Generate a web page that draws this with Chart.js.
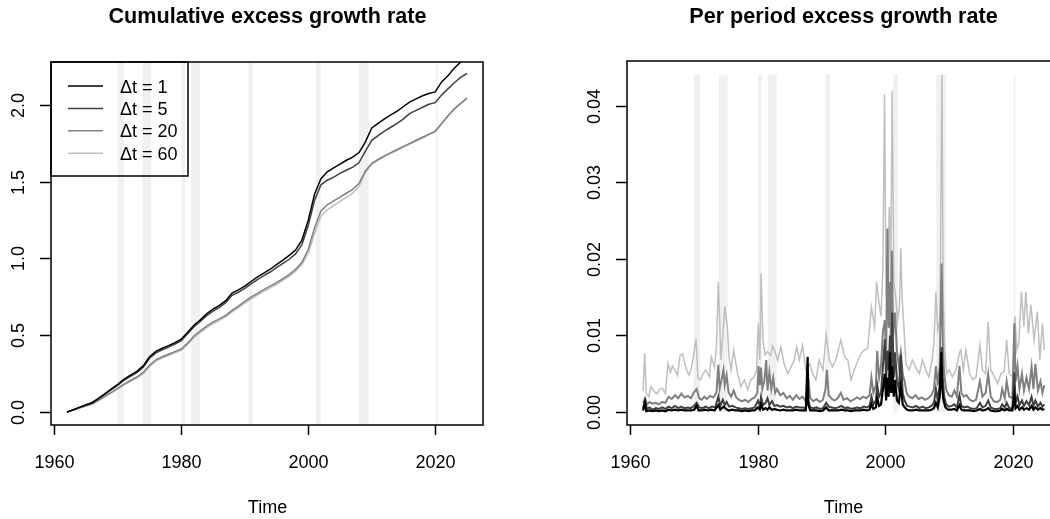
<!DOCTYPE html>
<html>
<head>
<meta charset="utf-8">
<script src="https://cdn.jsdelivr.net/npm/chart.js@4.4.1/dist/chart.umd.min.js"></script>
<style>
  html, body { margin: 0; padding: 0; background: #fff; overflow: hidden; }
  #wrap { position: relative; width: 1050px; height: 519px; overflow: hidden; }
  canvas { position: absolute; top: 0; }
  #cum { left: 0; }
  #per { left: 525px; }
</style>
</head>
<body>
<div id="wrap">
  <canvas id="cum" width="525" height="519"></canvas>
  <canvas id="per" width="525" height="519"></canvas>
</div>
<script>
// ---- data ----
const seriesNames = ["\u0394t = 1", "\u0394t = 5", "\u0394t = 20", "\u0394t = 60"];
const seriesColors = ["#000000", "#404040", "#808080", "#bfbfbf"];

const xTicks = [1960, 1980, 2000, 2020];
const cumYTicks = [0, 0.5, 1, 1.5, 2];
const cumYLabels = ["0.0", "0.5", "1.0", "1.5", "2.0"];
const perYTicks = [0, 0.01, 0.02, 0.03, 0.04];
const perYLabels = ["0.00", "0.01", "0.02", "0.03", "0.04"];

// recession shading (start, end)
const recessions = [
  [1969.95, 1970.95], [1973.9, 1975.25], [1980.05, 1980.6], [1981.55, 1982.95],
  [1990.6, 1991.25], [2001.2, 2001.95], [2007.95, 2009.5], [2020.1, 2020.35]
];

// cumulative excess growth rate, yearly
const cumYears = [1962,1963,1964,1965,1966,1967,1968,1969,1970,1971,1972,1973,1974,1975,1976,1977,1978,1979,
  1980,1981,1982,1983,1984,1985,1986,1987,1988,1989,1990,1991,1992,1993,1994,1995,1996,1997,1998,1999,
  2000,2001,2002,2003,2004,2005,2006,2007,2008,2009,2010,2011,2012,2013,2014,2015,2016,2017,2018,2019,
  2020,2021,2022,2023,2024,2025];
const cumDt1 = [0.000,0.015,0.032,0.047,0.062,0.090,0.120,0.150,0.180,0.215,0.240,0.265,0.300,0.360,0.395,0.415,0.432,0.452,
  0.475,0.520,0.565,0.600,0.640,0.670,0.695,0.725,0.775,0.795,0.820,0.850,0.880,0.905,0.930,0.960,0.990,1.020,1.055,1.120,
  1.250,1.420,1.520,1.565,1.590,1.615,1.640,1.660,1.690,1.760,1.850,1.880,1.910,1.935,1.960,1.990,2.020,2.040,2.060,2.075,
  2.085,2.150,2.190,2.240,2.280,2.330];
const cumDt5 = [0.000,0.014,0.030,0.045,0.060,0.087,0.116,0.145,0.175,0.207,0.232,0.257,0.292,0.350,0.385,0.405,0.423,0.443,
  0.465,0.510,0.555,0.590,0.628,0.657,0.682,0.712,0.760,0.780,0.805,0.835,0.863,0.888,0.912,0.940,0.968,0.995,1.030,1.090,
  1.215,1.380,1.480,1.510,1.530,1.555,1.575,1.595,1.625,1.700,1.770,1.800,1.830,1.855,1.880,1.910,1.945,1.965,1.985,2.005,
  2.015,2.065,2.105,2.145,2.180,2.205];
const cumDt20 = [0.000,0.013,0.027,0.040,0.053,0.078,0.103,0.128,0.155,0.182,0.205,0.228,0.258,0.305,0.340,0.360,0.376,0.393,
  0.410,0.450,0.495,0.528,0.560,0.585,0.607,0.630,0.662,0.690,0.720,0.748,0.773,0.797,0.820,0.843,0.868,0.895,0.930,0.975,
  1.060,1.200,1.310,1.350,1.375,1.400,1.425,1.450,1.490,1.570,1.620,1.645,1.668,1.690,1.710,1.730,1.750,1.770,1.790,1.810,
  1.830,1.880,1.930,1.975,2.010,2.045];
const cumDt60 = [0.000,0.012,0.026,0.039,0.052,0.076,0.100,0.125,0.151,0.177,0.200,0.222,0.250,0.296,0.332,0.352,0.368,0.385,
  0.401,0.440,0.485,0.518,0.550,0.575,0.597,0.620,0.652,0.680,0.709,0.737,0.762,0.786,0.809,0.832,0.857,0.884,0.918,0.960,
  1.035,1.165,1.275,1.318,1.345,1.372,1.398,1.425,1.470,1.560,1.615,1.640,1.663,1.685,1.705,1.725,1.745,1.765,1.785,1.805,
  1.825,1.877,1.927,1.972,2.008,2.043];

// per period excess growth rate, [time, value]
const perDt1 = [[1962.0,0.0002],[1962.3,0.0012],[1962.5,0.0001],[1963.0,0.0002],[1963.5,0.0001],[1964.0,0.0002],[1964.5,0.0001],
  [1965.0,0.0002],[1965.5,0.0001],[1966.0,0.0003],[1966.5,0.0002],[1967.0,0.0003],[1967.5,0.0002],[1968.0,0.0003],[1968.5,0.0002],
  [1969.0,0.0002],[1969.5,0.0002],[1970.0,0.0003],[1970.4,0.0008],[1970.7,0.0002],[1971.2,0.0002],[1971.7,0.0003],[1972.2,0.0002],
  [1972.7,0.0003],[1973.2,0.0002],[1973.8,0.0009],[1974.1,0.0003],[1974.6,0.0007],[1975.0,0.0004],[1975.4,0.0002],[1976.0,0.0003],
  [1976.5,0.0002],[1977.0,0.0002],[1977.5,0.0001],[1978.0,0.0002],[1978.5,0.0001],[1979.0,0.0002],[1979.5,0.0002],[1980.0,0.0006],
  [1980.3,0.0003],[1980.5,0.0010],[1980.8,0.0003],[1981.2,0.0005],[1981.5,0.0003],[1981.8,0.0006],[1982.2,0.0003],[1982.6,0.0004],
  [1983.0,0.0003],[1983.5,0.0002],[1984.0,0.0003],[1984.5,0.0002],[1985.0,0.0002],[1985.5,0.0002],[1986.0,0.0003],[1986.5,0.0002],
  [1987.0,0.0002],[1987.5,0.0002],[1987.8,0.0072],[1987.9,0.0010],[1988.2,0.0002],[1988.7,0.0002],[1989.2,0.0002],[1989.7,0.0001],
  [1990.2,0.0002],[1990.7,0.0006],[1991.1,0.0002],[1991.6,0.0002],[1992.1,0.0002],[1992.6,0.0002],[1993.1,0.0003],[1993.6,0.0002],
  [1994.1,0.0002],[1994.6,0.0001],[1995.1,0.0002],[1995.6,0.0002],[1996.1,0.0002],[1996.6,0.0003],[1997.1,0.0002],[1997.5,0.0003],
  [1997.8,0.0010],[1998.1,0.0004],[1998.5,0.0006],[1998.7,0.0018],[1999.0,0.0008],[1999.3,0.0010],[1999.6,0.0030],[1999.9,0.0050],
  [2000.1,0.0015],[2000.3,0.0045],[2000.5,0.0020],[2000.7,0.0078],[2000.9,0.0025],[2001.05,0.0060],[2001.3,0.0020],[2001.5,0.0042],
  [2001.8,0.0015],[2002.1,0.0012],[2002.4,0.0035],[2002.7,0.0010],[2003.0,0.0006],[2003.4,0.0003],[2003.8,0.0002],[2004.3,0.0002],
  [2004.8,0.0003],[2005.3,0.0002],[2005.8,0.0002],[2006.3,0.0002],[2006.8,0.0002],[2007.2,0.0003],[2007.6,0.0005],[2007.9,0.0012],
  [2008.2,0.0006],[2008.5,0.0020],[2008.75,0.0078],[2008.9,0.0030],[2009.1,0.0015],[2009.4,0.0006],[2009.8,0.0003],[2010.3,0.0003],
  [2010.8,0.0004],[2011.2,0.0002],[2011.6,0.0009],[2011.9,0.0003],[2012.3,0.0002],[2012.8,0.0002],[2013.3,0.0002],[2013.8,0.0001],
  [2014.3,0.0002],[2014.8,0.0004],[2015.2,0.0002],[2015.7,0.0003],[2016.1,0.0005],[2016.5,0.0002],[2017.0,0.0001],[2017.5,0.0001],
  [2018.0,0.0002],[2018.3,0.0004],[2018.7,0.0002],[2019.0,0.0004],[2019.4,0.0002],[2019.9,0.0002],[2020.2,0.0022],[2020.4,0.0005],
  [2020.7,0.0008],[2021.0,0.0003],[2021.4,0.0006],[2021.7,0.0003],[2022.1,0.0005],[2022.5,0.0003],[2022.9,0.0008],[2023.2,0.0003],
  [2023.5,0.0006],[2023.9,0.0003],[2024.3,0.0005],[2024.6,0.0003],[2024.9,0.0004]];
const perDt5 = [[1962.0,0.0005],[1962.3,0.0015],[1962.6,0.0004],[1963.0,0.0006],[1963.5,0.0003],[1964.0,0.0005],[1964.5,0.0004],
  [1965.0,0.0006],[1965.5,0.0004],[1966.0,0.0007],[1966.5,0.0005],[1967.0,0.0008],[1967.5,0.0005],[1968.0,0.0007],[1968.5,0.0005],
  [1969.0,0.0006],[1969.5,0.0005],[1970.0,0.0008],[1970.4,0.0012],[1970.8,0.0006],[1971.3,0.0005],[1971.8,0.0007],[1972.3,0.0005],
  [1972.8,0.0007],[1973.3,0.0006],[1973.8,0.0020],[1974.1,0.0008],[1974.5,0.0016],[1974.8,0.0009],[1975.1,0.0013],[1975.5,0.0007],
  [1976.0,0.0008],[1976.5,0.0006],[1977.0,0.0005],[1977.5,0.0004],[1978.0,0.0005],[1978.5,0.0004],[1979.0,0.0005],[1979.5,0.0006],
  [1980.0,0.0015],[1980.3,0.0008],[1980.5,0.0020],[1980.8,0.0009],[1981.2,0.0012],[1981.5,0.0018],[1981.8,0.0009],[1982.2,0.0014],
  [1982.6,0.0008],[1983.0,0.0009],[1983.5,0.0007],[1984.0,0.0008],[1984.5,0.0006],[1985.0,0.0007],[1985.5,0.0005],[1986.0,0.0007],
  [1986.5,0.0006],[1987.0,0.0006],[1987.5,0.0005],[1987.9,0.0015],[1988.2,0.0006],[1988.7,0.0005],[1989.2,0.0006],[1989.7,0.0004],
  [1990.2,0.0005],[1990.7,0.0012],[1991.1,0.0007],[1991.6,0.0006],[1992.1,0.0005],[1992.6,0.0006],[1993.1,0.0008],[1993.6,0.0005],
  [1994.1,0.0006],[1994.6,0.0004],[1995.1,0.0005],[1995.6,0.0006],[1996.1,0.0005],[1996.6,0.0007],[1997.1,0.0006],[1997.5,0.0008],
  [1997.8,0.0020],[1998.1,0.0010],[1998.5,0.0015],[1998.7,0.0035],[1999.0,0.0020],[1999.3,0.0025],[1999.6,0.0060],[1999.9,0.0095],
  [2000.1,0.0040],[2000.3,0.0080],[2000.5,0.0055],[2000.7,0.0100],[2000.9,0.0050],[2001.05,0.0130],[2001.3,0.0045],[2001.5,0.0078],
  [2001.8,0.0040],[2002.1,0.0030],[2002.4,0.0075],[2002.7,0.0025],[2003.0,0.0015],[2003.4,0.0008],[2003.8,0.0007],[2004.3,0.0006],
  [2004.8,0.0008],[2005.3,0.0005],[2005.8,0.0007],[2006.3,0.0005],[2006.8,0.0006],[2007.2,0.0008],[2007.6,0.0012],[2007.9,0.0030],
  [2008.2,0.0015],[2008.5,0.0035],[2008.8,0.0085],[2009.0,0.0040],[2009.2,0.0020],[2009.5,0.0010],[2009.9,0.0007],[2010.4,0.0008],
  [2010.8,0.0010],[2011.2,0.0006],[2011.6,0.0022],[2011.9,0.0008],[2012.3,0.0006],[2012.8,0.0007],[2013.3,0.0005],[2013.8,0.0004],
  [2014.3,0.0005],[2014.8,0.0012],[2015.2,0.0006],[2015.7,0.0008],[2016.1,0.0015],[2016.5,0.0006],[2017.0,0.0004],[2017.5,0.0004],
  [2018.0,0.0005],[2018.3,0.0010],[2018.7,0.0006],[2019.0,0.0012],[2019.4,0.0005],[2019.9,0.0005],[2020.2,0.0052],[2020.4,0.0012],
  [2020.7,0.0020],[2021.0,0.0009],[2021.4,0.0015],[2021.7,0.0008],[2022.1,0.0014],[2022.5,0.0009],[2022.9,0.0020],[2023.2,0.0008],
  [2023.5,0.0015],[2023.9,0.0007],[2024.3,0.0012],[2024.6,0.0007],[2024.9,0.0010]];
const perDt20 = [[1962.0,0.0012],[1962.3,0.0018],[1962.6,0.0010],[1963.0,0.0013],[1963.5,0.0011],[1964.0,0.0012],[1964.5,0.0010],
  [1965.0,0.0013],[1965.5,0.0012],[1966.0,0.0020],[1966.5,0.0017],[1967.0,0.0022],[1967.5,0.0018],[1968.0,0.0024],[1968.5,0.0019],
  [1969.0,0.0021],[1969.5,0.0018],[1970.0,0.0026],[1970.4,0.0030],[1970.8,0.0018],[1971.2,0.0016],[1971.6,0.0020],[1972.0,0.0017],
  [1972.5,0.0021],[1973.0,0.0019],[1973.5,0.0025],[1973.8,0.0062],[1974.0,0.0030],[1974.3,0.0042],[1974.6,0.0055],[1974.8,0.0035],
  [1975.1,0.0048],[1975.4,0.0026],[1975.8,0.0020],[1976.2,0.0028],[1976.6,0.0019],[1977.0,0.0016],[1977.5,0.0014],[1978.0,0.0016],
  [1978.5,0.0013],[1979.0,0.0017],[1979.5,0.0019],[1979.9,0.0025],[1980.1,0.0060],[1980.3,0.0035],[1980.5,0.0058],[1980.7,0.0030],
  [1981.0,0.0040],[1981.3,0.0068],[1981.5,0.0028],[1981.8,0.0052],[1982.1,0.0030],[1982.4,0.0045],[1982.7,0.0025],[1983.0,0.0030],
  [1983.5,0.0022],[1984.0,0.0025],[1984.5,0.0018],[1985.0,0.0021],[1985.5,0.0016],[1986.0,0.0022],[1986.5,0.0017],[1987.0,0.0020],
  [1987.5,0.0014],[1987.9,0.0045],[1988.2,0.0018],[1988.7,0.0014],[1989.2,0.0017],[1989.7,0.0013],[1990.2,0.0016],[1990.6,0.0030],
  [1990.8,0.0055],[1991.1,0.0022],[1991.6,0.0017],[1992.0,0.0015],[1992.5,0.0018],[1993.0,0.0025],[1993.4,0.0016],[1994.0,0.0018],
  [1994.5,0.0014],[1995.0,0.0016],[1995.5,0.0019],[1996.0,0.0017],[1996.5,0.0020],[1997.0,0.0018],[1997.5,0.0022],[1997.8,0.0045],
  [1998.1,0.0025],[1998.5,0.0035],[1998.7,0.0080],[1999.0,0.0045],[1999.3,0.0060],[1999.6,0.0105],[1999.9,0.0120],[2000.1,0.0070],
  [2000.3,0.0240],[2000.5,0.0110],[2000.7,0.0170],[2000.85,0.0090],[2001.0,0.0211],[2001.2,0.0100],[2001.5,0.0130],[2001.8,0.0080],
  [2002.1,0.0060],[2002.4,0.0078],[2002.7,0.0050],[2003.0,0.0040],[2003.3,0.0025],[2003.7,0.0020],[2004.2,0.0018],[2004.7,0.0022],
  [2005.2,0.0017],[2005.7,0.0019],[2006.2,0.0016],[2006.7,0.0018],[2007.2,0.0022],[2007.6,0.0030],[2007.9,0.0060],[2008.2,0.0035],
  [2008.5,0.0060],[2008.8,0.0194],[2009.0,0.0085],[2009.2,0.0050],[2009.5,0.0030],[2009.9,0.0022],[2010.4,0.0020],[2010.8,0.0028],
  [2011.2,0.0020],[2011.6,0.0060],[2011.9,0.0025],[2012.3,0.0020],[2012.7,0.0022],[2013.2,0.0016],[2013.7,0.0014],[2014.2,0.0016],
  [2014.8,0.0040],[2015.2,0.0020],[2015.7,0.0025],[2016.1,0.0050],[2016.5,0.0020],[2017.0,0.0014],[2017.5,0.0013],[2018.0,0.0016],
  [2018.3,0.0030],[2018.7,0.0018],[2019.0,0.0040],[2019.4,0.0020],[2019.9,0.0018],[2020.2,0.0116],[2020.4,0.0040],[2020.7,0.0060],
  [2021.0,0.0030],[2021.4,0.0050],[2021.7,0.0028],[2022.1,0.0045],[2022.5,0.0030],[2022.9,0.0059],[2023.2,0.0030],[2023.5,0.0063],
  [2023.9,0.0028],[2024.3,0.0040],[2024.6,0.0025],[2024.9,0.0035]];
const perDt60 = [[1962.0,0.0027],[1962.25,0.0077],[1962.5,0.0025],[1962.9,0.0020],[1963.2,0.0033],[1963.5,0.0030],[1963.8,0.0026],
  [1964.2,0.0024],[1964.6,0.0030],[1965.0,0.0031],[1965.5,0.0024],[1965.9,0.0063],[1966.3,0.0052],[1966.6,0.0060],[1966.9,0.0056],
  [1967.4,0.0048],[1967.8,0.0074],[1968.2,0.0076],[1968.7,0.0058],[1969.2,0.0048],[1969.5,0.0055],[1969.8,0.0068],[1970.3,0.0096],
  [1970.6,0.0044],[1971.0,0.0042],[1971.3,0.0048],[1971.8,0.0055],[1972.4,0.0046],[1972.7,0.0072],[1973.2,0.0058],[1973.5,0.0085],
  [1973.8,0.0170],[1974.2,0.0068],[1974.5,0.0100],[1974.8,0.0138],[1975.2,0.0112],[1975.5,0.0070],[1975.8,0.0055],[1976.2,0.0081],
  [1976.5,0.0066],[1976.8,0.0051],[1977.3,0.0033],[1977.9,0.0042],[1978.4,0.0029],[1978.9,0.0042],[1979.4,0.0046],[1979.8,0.0055],
  [1980.05,0.0116],[1980.3,0.0068],[1980.5,0.0181],[1980.8,0.0094],[1981.1,0.0075],[1981.5,0.0079],[1982.0,0.0074],[1982.3,0.0086],
  [1982.6,0.0081],[1983.1,0.0068],[1983.6,0.0085],[1984.1,0.0063],[1984.7,0.0050],[1985.2,0.0059],[1985.7,0.0068],[1986.1,0.0085],
  [1986.5,0.0068],[1987.0,0.0087],[1987.5,0.0055],[1988.1,0.0063],[1988.6,0.0050],[1989.1,0.0042],[1989.6,0.0068],[1990.2,0.0055],
  [1990.7,0.0101],[1991.2,0.0068],[1991.7,0.0059],[1992.2,0.0068],[1993.0,0.0094],[1993.6,0.0072],[1994.1,0.0068],[1994.6,0.0042],
  [1995.1,0.0055],[1995.7,0.0068],[1996.2,0.0077],[1996.7,0.0081],[1997.2,0.0083],[1997.8,0.0137],[1998.3,0.0111],[1998.6,0.0170],
  [1999.0,0.0142],[1999.3,0.0125],[1999.6,0.0190],[1999.85,0.0415],[2000.1,0.0150],[2000.4,0.0190],[2000.6,0.0268],[2000.8,0.0160],
  [2001.05,0.0420],[2001.3,0.0170],[2001.6,0.0150],[2001.9,0.0120],[2002.2,0.0140],[2002.4,0.0214],[2002.6,0.0150],[2002.9,0.0110],
  [2003.2,0.0063],[2003.7,0.0055],[2004.2,0.0068],[2004.7,0.0059],[2005.3,0.0050],[2005.8,0.0068],[2006.3,0.0055],[2006.8,0.0046],
  [2007.3,0.0068],[2007.6,0.0090],[2007.9,0.0157],[2008.2,0.0107],[2008.55,0.0120],[2008.85,0.0441],[2009.05,0.0150],[2009.3,0.0080],
  [2009.6,0.0050],[2010.0,0.0055],[2010.5,0.0046],[2011.05,0.0055],[2011.6,0.0077],[2011.8,0.0081],[2012.2,0.0055],[2012.6,0.0081],
  [2013.2,0.0050],[2013.7,0.0042],[2014.2,0.0046],[2014.8,0.0087],[2015.2,0.0055],[2015.7,0.0050],[2016.1,0.0118],[2016.5,0.0055],
  [2017.1,0.0046],[2017.6,0.0037],[2018.1,0.0050],[2018.6,0.0053],[2019.0,0.0094],[2019.4,0.0050],[2019.95,0.0046],[2020.3,0.0125],
  [2020.6,0.0081],[2020.9,0.0090],[2021.3,0.0157],[2021.7,0.0112],[2022.0,0.0157],[2022.4,0.0103],[2022.8,0.0140],[2023.3,0.0094],
  [2023.8,0.0131],[2024.2,0.0068],[2024.6,0.0116],[2024.9,0.0081]];

// ---- drawing helpers ----
const FONT = '"Liberation Sans", Arial, Helvetica, sans-serif';

function shadePlugin(yFrom, yTo) {
  return {
    id: "shade",
    beforeDatasetsDraw(chart) {
      const c = chart.ctx, a = chart.chartArea;
      const xs = chart.scales.x, ys = chart.scales.y;
      const top = yTo === null ? a.top : ys.getPixelForValue(yTo);
      const bot = yFrom === null ? a.bottom : ys.getPixelForValue(yFrom);
      c.save();
      c.beginPath();
      c.rect(a.left, a.top, a.right - a.left, a.bottom - a.top);
      c.clip();
      c.fillStyle = "#f0f0f0";
      recessions.forEach(function (r) {
        const x0 = xs.getPixelForValue(r[0]), x1 = xs.getPixelForValue(r[1]);
        c.fillRect(x0, top, x1 - x0, bot - top);
      });
      c.restore();
    }
  };
}

function axesPlugin(title, yTicks, yLabels, yLabelX, legend, openRight) {
  return {
    id: "raxes",
    afterDraw(chart) {
      const c = chart.ctx, a = chart.chartArea;
      const xs = chart.scales.x, ys = chart.scales.y;
      c.save();
      c.strokeStyle = "#000";
      c.fillStyle = "#000";
      c.lineWidth = 1.5;
      c.beginPath();
      if (openRight) {
        // right edge of this panel lies outside the window
        c.moveTo(a.right + 5, a.top);
        c.lineTo(a.left, a.top);
        c.lineTo(a.left, a.bottom);
        c.lineTo(a.right + 5, a.bottom);
      } else {
        c.rect(a.left, a.top, a.right - a.left, a.bottom - a.top);
      }
      c.stroke();

      c.font = "18px " + FONT;
      c.textAlign = "center";
      c.textBaseline = "alphabetic";
      xTicks.forEach(function (t) {
        const x = Math.round(xs.getPixelForValue(t)) + 0.5;
        c.beginPath();
        c.moveTo(x, a.bottom);
        c.lineTo(x, a.bottom + 10);
        c.stroke();
        c.fillText(String(t), x, 467.5);
      });
      yTicks.forEach(function (t, i) {
        const y = Math.round(ys.getPixelForValue(t)) + 0.5;
        c.beginPath();
        c.moveTo(a.left, y);
        c.lineTo(a.left - 11, y);
        c.stroke();
        c.save();
        c.translate(yLabelX, y);
        c.rotate(-Math.PI / 2);
        c.fillText(yLabels[i], 0, 0);
        c.restore();
      });

      const mid = a.left + 216.5;
      c.fillText("Time", mid, 513);
      c.font = "bold 21.6px " + FONT;
      c.fillText(title, mid, 23);

      if (legend) {
        c.lineWidth = 1.5;
        c.strokeStyle = "#000";
        c.strokeRect(a.left, a.top, 137, 114);
        c.font = "18px " + FONT;
        c.textAlign = "left";
        seriesNames.forEach(function (name, i) {
          const y = a.top + 24 + i * 22.4;
          c.strokeStyle = seriesColors[i];
          c.beginPath();
          c.moveTo(a.left + 17, y);
          c.lineTo(a.left + 52, y);
          c.stroke();
          c.fillText(name, a.left + 69, y + 6.5);
        });
      }
      c.restore();
    }
  };
}

function lineSets(list, widths) {
  return list.map(function (pts, i) {
    return {
      label: seriesNames[i],
      data: pts,
      borderColor: seriesColors[i],
      borderWidth: widths[i],
      pointRadius: 0,
      tension: 0,
      fill: false
    };
  });
}

function baseOptions(pad, xmax, ymin, ymax) {
  return {
    responsive: false,
    animation: false,
    layout: { padding: pad },
    scales: {
      x: { type: "linear", min: 1959.48, max: xmax, display: false },
      y: { type: "linear", min: ymin, max: ymax, display: false }
    },
    plugins: { legend: { display: false }, tooltip: { enabled: false }, title: { display: false } }
  };
}

// ---- left: cumulative ----
const cumSeries = [cumDt1, cumDt5, cumDt20, cumDt60].map(function (vals) {
  return vals.map(function (v, i) { return { x: cumYears[i], y: v }; });
});
new Chart(document.getElementById("cum").getContext("2d"), {
  type: "line",
  data: { datasets: lineSets(cumSeries, [1.5, 1.5, 1.5, 1.5]) },
  options: baseOptions({ left: 51, right: 42, top: 62, bottom: 94 }, 2027.52, -0.0847, 2.28),
  plugins: [shadePlugin(null, null), axesPlugin("Cumulative excess growth rate", cumYTicks, cumYLabels, 23.5, true, false)]
});

// ---- right: per period (cut off by the window on the right) ----
const perSeries = [perDt1, perDt5, perDt20, perDt60].map(function (pts) {
  return pts.map(function (p) { return { x: p[0], y: p[1] }; });
});
new Chart(document.getElementById("per").getContext("2d"), {
  type: "line",
  data: { datasets: lineSets(perSeries, [2.2, 2, 2, 1.5]) },
  options: baseOptions({ left: 102, right: 0, top: 61, bottom: 94 }, 2025.79, -0.0017, 0.04588),
  plugins: [shadePlugin(0, 0.0441), axesPlugin("Per period excess growth rate", perYTicks, perYLabels, 74.5, false, true)]
});
</script>
</body>
</html>
